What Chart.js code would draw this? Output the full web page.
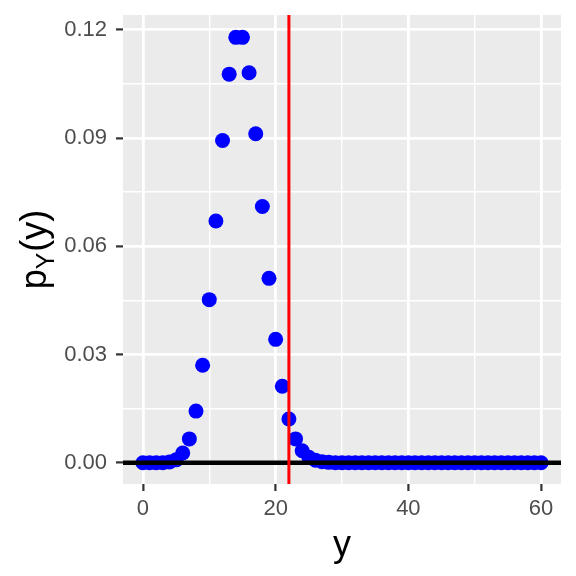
<!DOCTYPE html>
<html>
<head>
<meta charset="utf-8">
<script src="https://cdn.jsdelivr.net/npm/chart.js@4"></script>
<style>
  html, body { margin: 0; padding: 0; background: #fff; }
  #wrap { width: 576px; height: 576px; }
</style>
</head>
<body>
<div id="wrap"><canvas id="myChart" width="576" height="576"></canvas></div>
<script>
// y = 0..60 and p_Y(y)
var yValues = [0, 1, 2, 3, 4, 5, 6, 7, 8, 9,
  10, 11, 12, 13, 14, 15, 16, 17, 18, 19,
  20, 21, 22, 23, 24, 25, 26, 27, 28, 29,
  30, 31, 32, 33, 34, 35, 36, 37, 38, 39,
  40, 41, 42, 43, 44, 45, 46, 47, 48, 49,
  50, 51, 52, 53, 54, 55, 56, 57, 58, 59, 60];
var probs = [0, 0, 0, 0, 0.0002, 0.0008, 0.0027, 0.0066, 0.0143, 0.0270,
  0.0452, 0.0670, 0.0893, 0.1077, 0.1179, 0.1179, 0.1081, 0.0912, 0.0710, 0.0511,
  0.0342, 0.0212, 0.0121, 0.0066, 0.0033, 0.0015, 0.0007, 0.0003, 0.0001, 0,
  0, 0, 0, 0, 0, 0, 0, 0, 0, 0,
  0, 0, 0, 0, 0, 0, 0, 0, 0, 0,
  0, 0, 0, 0, 0, 0, 0, 0, 0, 0, 0];
var cutoff = 22;          // red vertical line
var xRange = [-3, 63];
var yRange = [-0.0059, 0.1241];
var xTickValues = [0, 20, 40, 60];
var xTickLabels = ['0', '20', '40', '60'];
var yTickValues = [0, 0.03, 0.06, 0.09, 0.12];
var yTickLabels = ['0.00', '0.03', '0.06', '0.09', '0.12'];

var FONT = "'Liberation Sans', Arial, Helvetica, sans-serif";

function majorIndex(list, v) {
  for (var i = 0; i < list.length; i++) {
    if (Math.abs(list[i] - v) < 1e-9) return i;
  }
  return -1;
}

var points = [];
for (var i = 0; i < yValues.length; i++) {
  points.push({ x: yValues[i], y: probs[i] });
}

// grey panel behind the grid
var panelBg = {
  id: 'panelBg',
  beforeDraw: function(chart) {
    var a = chart.chartArea, c = chart.ctx;
    c.save();
    c.fillStyle = '#EBEBEB';
    c.fillRect(a.left, a.top, a.right - a.left, a.bottom - a.top);
    c.restore();
  }
};

// y axis title with subscript: p_Y(y)
var yTitle = {
  id: 'yTitle',
  afterDraw: function(chart) {
    var c = chart.ctx, a = chart.chartArea;
    var size = 36, sub = 25;
    c.save();
    c.translate(46, (a.top + a.bottom) / 2);
    c.rotate(-Math.PI / 2);
    c.fillStyle = '#000';
    c.textBaseline = 'alphabetic';
    c.textAlign = 'left';
    c.font = size + 'px ' + FONT;
    var wp = c.measureText('p').width;
    var wr = c.measureText('(y)').width;
    c.font = sub + 'px ' + FONT;
    var wy = c.measureText('Y').width;
    var x0 = -(wp + wy + wr + 1) / 2;
    c.font = size + 'px ' + FONT;
    c.fillText('p', x0, 0);
    c.font = sub + 'px ' + FONT;
    c.fillText('Y', x0 + wp, 8);
    c.font = size + 'px ' + FONT;
    c.fillText('(y)', x0 + wp + wy + 1, 0);
    c.restore();
  }
};

new Chart(document.getElementById('myChart'), {
  type: 'scatter',
  data: {
    datasets: [
      {
        label: 'p',
        data: points,
        backgroundColor: '#0000FF',
        borderColor: '#0000FF',
        borderWidth: 0,
        pointRadius: 7.5,
        order: 3
      },
      {
        label: 'zero',
        data: [{ x: xRange[0], y: 0 }, { x: xRange[1], y: 0 }],
        showLine: true,
        borderColor: '#000000',
        borderWidth: 4.5,
        pointRadius: 0,
        order: 1
      },
      {
        label: 'cutoff',
        data: [{ x: cutoff, y: yRange[0] }, { x: cutoff, y: yRange[1] }],
        showLine: true,
        borderColor: '#FF0000',
        borderWidth: 3,
        pointRadius: 0,
        order: 0
      }
    ]
  },
  options: {
    responsive: false,
    animation: false,
    layout: { padding: { top: 15, right: 15, left: 0, bottom: 0 } },
    plugins: {
      legend: { display: false },
      tooltip: { enabled: false }
    },
    scales: {
      x: {
        type: 'linear',
        min: xRange[0],
        max: xRange[1],
        afterFit: function(s) { s.height = 92; s.paddingLeft = 0; s.paddingRight = 0; },
        border: { display: false },
        grid: {
          color: '#FFFFFF',
          lineWidth: function(ctx) { return majorIndex(xTickValues, ctx.tick.value) >= 0 ? 2.8 : 1.4; },
          tickColor: function(ctx) { return majorIndex(xTickValues, ctx.tick.value) >= 0 ? '#333333' : 'rgba(0,0,0,0)'; },
          tickWidth: 2.2,
          tickLength: 7
        },
        ticks: {
          stepSize: 10,
          includeBounds: false,
          autoSkip: false,
          maxRotation: 0,
          padding: 5,
          color: '#4D4D4D',
          font: { family: FONT, size: 22 },
          callback: function(v) {
            var k = majorIndex(xTickValues, v);
            return k >= 0 ? xTickLabels[k] : '';
          }
        },
        title: {
          display: true,
          text: 'y',
          color: '#000000',
          font: { family: FONT, size: 36 },
          padding: { top: 0, bottom: 8 }
        }
      },
      y: {
        type: 'linear',
        min: yRange[0],
        max: yRange[1],
        afterFit: function(s) { s.width = 123; s.paddingTop = 0; s.paddingBottom = 0; },
        border: { display: false },
        grid: {
          color: '#FFFFFF',
          lineWidth: function(ctx) { return majorIndex(yTickValues, ctx.tick.value) >= 0 ? 2.8 : 1.4; },
          tickColor: function(ctx) { return majorIndex(yTickValues, ctx.tick.value) >= 0 ? '#333333' : 'rgba(0,0,0,0)'; },
          tickWidth: 2.2,
          tickLength: 7
        },
        ticks: {
          stepSize: 0.015,
          includeBounds: false,
          autoSkip: false,
          padding: 9,
          color: '#4D4D4D',
          font: { family: FONT, size: 22 },
          callback: function(v) {
            var k = majorIndex(yTickValues, v);
            return k >= 0 ? yTickLabels[k] : '';
          }
        }
      }
    }
  },
  plugins: [panelBg, yTitle]
});
</script>
</body>
</html>
